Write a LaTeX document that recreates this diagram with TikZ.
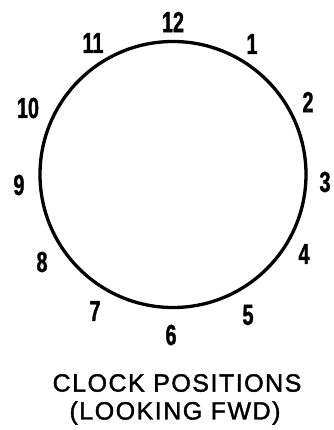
\documentclass[tikz,border=0pt]{standalone}
\usepackage{fontspec}
\newfontfamily\digfont[FakeStretch=0.68,FakeBold=1.2]{Liberation Sans Bold}
\newfontfamily\capfont[LetterSpace=6,FakeBold=1.5]{Liberation Sans}
\begin{document}
\begin{tikzpicture}[x=1pt,y=-1pt,
  dig/.style={font=\digfont\fontsize{29}{29}\selectfont, inner sep=0pt, anchor=center},
  captext/.style={font=\capfont\fontsize{25}{25}\selectfont, inner sep=0pt, anchor=center}]
\useasboundingbox (0,0) rectangle (333,430);
\node[circle, draw, line width=3.3pt, minimum size=266pt, inner sep=0pt] (clock) at (173,174.5) {};
\node[dig] (h12) at (173,22) {12};
\node[dig] (h1) at (252,44) {1};
\node[dig] (h2) at (308,102) {2};
\node[dig] (h3) at (325,182) {3};
\node[dig] (h4) at (304,254) {4};
\node[dig] (h5) at (248,315) {5};
\node[dig] (h6) at (171,335) {6};
\node[dig] (h7) at (95,311) {7};
\node[dig] (h8) at (42,262) {8};
\node[dig] (h9) at (19,185) {9};
\node[dig] (h10) at (28,108) {10};
\node[dig] (h11) at (93,43) {11};
\node[captext] (t1) at (177,383) {CLOCK POSITIONS};
\node[captext] (t2) at (175,413) {(LOOKING FWD)};
\end{tikzpicture}
\end{document}
